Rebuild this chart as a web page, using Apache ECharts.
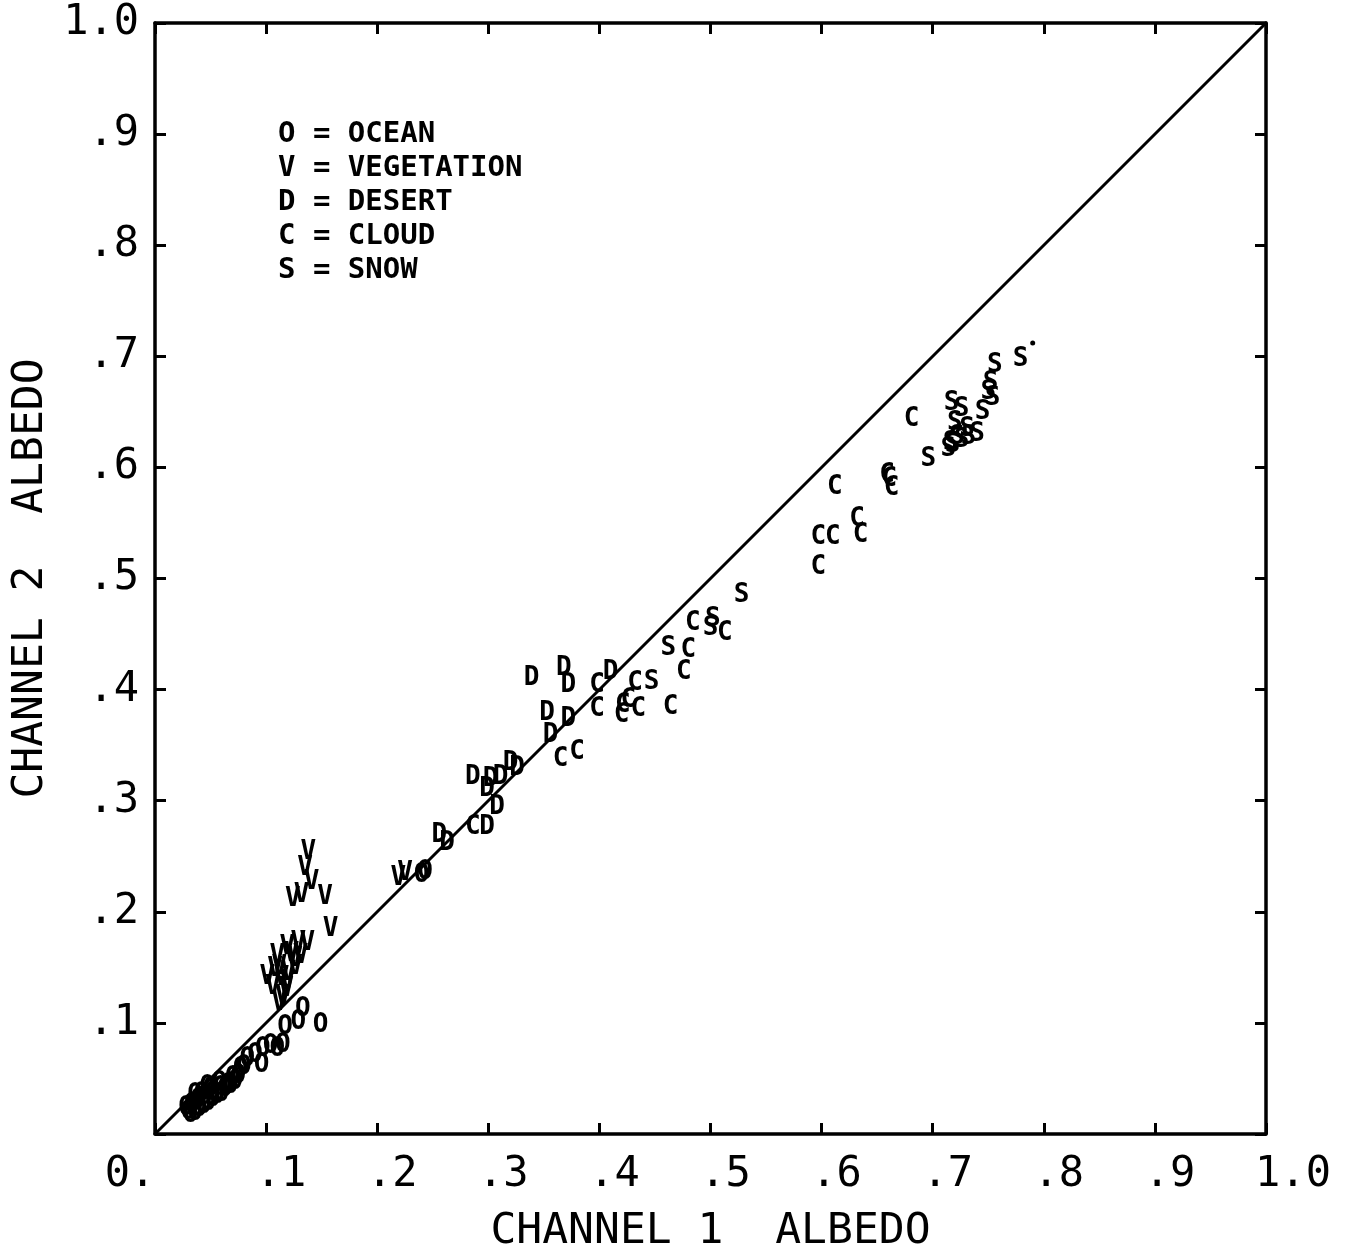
<!DOCTYPE html>
<html>
<head>
<meta charset="utf-8">
<script src="https://cdn.jsdelivr.net/npm/echarts@6/dist/echarts.min.js"></script>
<style>
  html, body { margin: 0; padding: 0; background: #fff; }
  #mychart { width: 1349px; height: 1253px; }
</style>
</head>
<body>
<div id="mychart"></div>
<script>
// category letters and names
const letters = { OCEAN: 'O', VEGETATION: 'V', DESERT: 'D', CLOUD: 'C', SNOW: 'S' }
const categories = ['OCEAN', 'VEGETATION', 'DESERT', 'CLOUD', 'SNOW']

// [channel 1 albedo, channel 2 albedo]
const ocean = [
  [0.133, 0.112], [0.149, 0.098], [0.129, 0.101], [0.117, 0.096], [0.115, 0.080],
  [0.110, 0.076], [0.097, 0.076], [0.096, 0.062], [0.090, 0.071], [0.083, 0.067],
  [0.077, 0.058], [0.070, 0.050], [0.066, 0.044], [0.059, 0.041], [0.052, 0.037],
  [0.045, 0.033], [0.039, 0.030], [0.033, 0.026], [0.028, 0.023], [0.032, 0.017],
  [0.040, 0.022], [0.048, 0.028], [0.056, 0.034], [0.063, 0.040], [0.072, 0.047],
  [0.036, 0.035], [0.047, 0.042], [0.030, 0.020], [0.036, 0.019], [0.044, 0.025],
  [0.052, 0.031], [0.060, 0.036], [0.068, 0.043], [0.075, 0.052], [0.080, 0.060],
  [0.042, 0.036], [0.050, 0.040], [0.058, 0.046], [0.037, 0.028], [0.104, 0.079],
  [0.240, 0.233], [0.243, 0.236]
]
const vegetation = [
  [0.138, 0.254], [0.135, 0.239], [0.141, 0.227], [0.124, 0.211], [0.132, 0.215],
  [0.153, 0.213], [0.158, 0.184], [0.119, 0.168], [0.129, 0.172], [0.137, 0.172],
  [0.112, 0.150], [0.101, 0.141], [0.126, 0.150], [0.106, 0.132], [0.119, 0.137],
  [0.115, 0.123], [0.126, 0.157], [0.110, 0.160], [0.120, 0.145], [0.114, 0.140],
  [0.123, 0.162], [0.131, 0.160], [0.108, 0.148], [0.118, 0.130], [0.112, 0.118],
  [0.219, 0.230], [0.225, 0.235]
]
const desert = [
  [0.339, 0.410], [0.368, 0.419], [0.372, 0.404], [0.410, 0.416], [0.353, 0.379],
  [0.372, 0.373], [0.356, 0.359], [0.320, 0.334], [0.326, 0.329], [0.286, 0.321],
  [0.302, 0.319], [0.311, 0.321], [0.299, 0.310], [0.308, 0.294], [0.299, 0.276],
  [0.256, 0.269], [0.263, 0.262]
]
const cloud = [
  [0.286, 0.276], [0.398, 0.404], [0.398, 0.382], [0.365, 0.337], [0.380, 0.344],
  [0.432, 0.406], [0.421, 0.386], [0.426, 0.390], [0.435, 0.382], [0.420, 0.377],
  [0.464, 0.384], [0.476, 0.416], [0.480, 0.435], [0.484, 0.460], [0.513, 0.451],
  [0.612, 0.582], [0.659, 0.593], [0.663, 0.581], [0.597, 0.537], [0.610, 0.537],
  [0.632, 0.553], [0.635, 0.539], [0.597, 0.510], [0.681, 0.643], [0.661, 0.589]
]
const snow = [
  [0.447, 0.407], [0.462, 0.437], [0.528, 0.485], [0.502, 0.463], [0.500, 0.455],
  [0.696, 0.607], [0.717, 0.658], [0.726, 0.652], [0.716, 0.622], [0.722, 0.627],
  [0.731, 0.634], [0.732, 0.627], [0.714, 0.616], [0.745, 0.650], [0.754, 0.662],
  [0.752, 0.676], [0.756, 0.692], [0.779, 0.697], [0.720, 0.640], [0.740, 0.630],
  [0.718, 0.620], [0.726, 0.624], [0.750, 0.668]
]
const strayDots = [[0.790, 0.712]]
const diagonal = [[0, 0], [1, 1]]

const seriesData = { OCEAN: ocean, VEGETATION: vegetation, DESERT: desert, CLOUD: cloud, SNOW: snow }

const mono = 'DejaVu Sans Mono'

const chart = echarts.init(document.getElementById('mychart'))

const tickStyle = { show: true, inside: true, length: 11, lineStyle: { color: '#000', width: 3 } }
const lineStyle = { show: true, onZero: false, lineStyle: { color: '#000', width: 3.5 } }

const option = {
  animation: false,
  backgroundColor: '#fff',
  grid: { left: 155, top: 23, width: 1111, height: 1111, outerBoundsMode: 'none', containLabel: false },
  legend: {
    data: categories,
    left: 278,
    top: 120,
    orient: 'vertical',
    icon: 'none',
    itemWidth: 0,
    itemHeight: 0,
    itemGap: 5,
    padding: 0,
    selectedMode: false,
    formatter: name => letters[name] + ' = ' + name,
    textStyle: { fontFamily: mono, fontWeight: 'bold', fontSize: 29, color: '#000', padding: [0, 0, 0, -5] }
  },
  xAxis: [
    {
      type: 'value', min: 0, max: 1, interval: 0.1, position: 'bottom',
      name: 'CHANNEL 1  ALBEDO', nameLocation: 'middle', nameGap: 76,
      nameTextStyle: { fontFamily: mono, fontSize: 43, color: '#000' },
      axisLine: lineStyle, axisTick: tickStyle, splitLine: { show: false },
      axisLabel: {
        margin: 20, color: '#000', fontFamily: mono, fontSize: 42,
        formatter: v => {
          if (v === 0) return '{a|0.}'
          if (v === 1) return '{c|1.0}'
          return '{b|.' + Math.round(v * 10) + '}'
        },
        rich: {
          a: { fontFamily: mono, fontSize: 42, color: '#000', padding: [0, 50, 0, 0] },
          b: { fontFamily: mono, fontSize: 42, color: '#000', padding: [0, 0, 0, 30] },
          c: { fontFamily: mono, fontSize: 42, color: '#000', padding: [0, 0, 0, 54] }
        }
      }
    },
    {
      type: 'value', min: 0, max: 1, interval: 0.1, position: 'top',
      axisLine: lineStyle, axisTick: tickStyle, axisLabel: { show: false }, splitLine: { show: false }
    }
  ],
  yAxis: [
    {
      type: 'value', min: 0, max: 1, interval: 0.1, position: 'left',
      name: 'CHANNEL 2  ALBEDO', nameLocation: 'middle', nameGap: 103,
      nameTextStyle: { fontFamily: mono, fontSize: 43, color: '#000' },
      axisLine: lineStyle, axisTick: tickStyle, splitLine: { show: false },
      axisLabel: {
        margin: 16, color: '#000', fontFamily: mono, fontSize: 42,
        formatter: v => (v === 0 ? '' : v === 1 ? '1.0' : '.' + Math.round(v * 10))
      }
    },
    {
      type: 'value', min: 0, max: 1, interval: 0.1, position: 'right',
      axisLine: lineStyle, axisTick: tickStyle, axisLabel: { show: false }, splitLine: { show: false }
    }
  ],
  series: [
    {
      name: 'diagonal', type: 'line', data: diagonal, symbol: 'none', silent: true,
      lineStyle: { color: '#000', width: 3 }, z: 1
    },
    ...categories.map(cat => ({
      name: cat,
      type: 'scatter',
      data: seriesData[cat],
      symbolSize: 1,
      itemStyle: { color: '#fff', opacity: 0 },
      label: {
        show: true, position: 'inside', formatter: letters[cat], opacity: 1,
        fontFamily: mono, fontWeight: 'bold', fontSize: 26, color: '#000'
      },
      z: 3
    })),
    {
      name: 'dot', type: 'scatter', data: strayDots, symbolSize: 5,
      itemStyle: { color: '#000', opacity: 1 }
    }
  ]
}

chart.setOption(option)
</script>
</body>
</html>
